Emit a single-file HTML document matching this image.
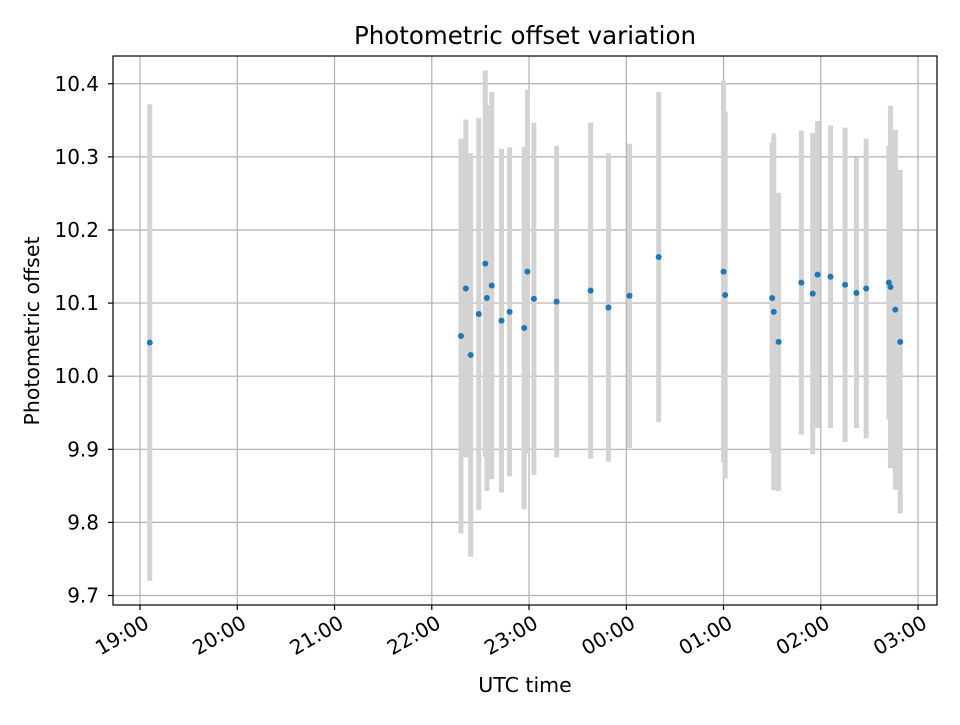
<!DOCTYPE html>
<html><head><meta charset="utf-8"><style>
body{margin:0;background:#fff}
svg text{font-family:"DejaVu Sans","Liberation Sans",sans-serif;fill:#000}
</style></head><body>
<svg id="chart" width="960" height="720" xmlns="http://www.w3.org/2000/svg">
<rect width="960" height="720" fill="#fff"/>
<g id="grid"></g>
<g id="bars"></g>
<g id="pts"></g>
<rect x="113" y="56" width="824" height="549" fill="none" stroke="#000" stroke-width="1.2"/>
<g id="axes"></g>
<text x="525" y="44" text-anchor="middle" font-size="24.5">Photometric offset variation</text>
<text x="525" y="692" text-anchor="middle" font-size="20.5">UTC time</text>
<text transform="translate(39,331) rotate(-90)" text-anchor="middle" font-size="20.5">Photometric offset</text>
</svg>
<script>
const times=["19:06","22:18","22:21","22:24","22:29","22:33","22:34","22:37","22:43","22:48","22:57","22:59","23:03","23:17","23:38","23:49","00:02","00:20","01:00","01:01","01:30","01:31","01:34","01:48","01:55","01:58","02:06","02:15","02:22","02:28","02:42","02:43","02:46","02:49"];
const values=[10.046,10.055,10.120,10.029,10.085,10.154,10.107,10.124,10.076,10.088,10.066,10.143,10.106,10.102,10.117,10.094,10.110,10.163,10.143,10.111,10.107,10.088,10.047,10.128,10.113,10.139,10.136,10.125,10.114,10.120,10.128,10.122,10.091,10.047];
const errors=[0.326,0.270,0.231,0.276,0.268,0.264,0.264,0.265,0.235,0.225,0.248,0.249,0.241,0.213,0.230,0.211,0.208,0.226,0.261,0.251,0.212,0.244,0.204,0.208,0.220,0.210,0.207,0.215,0.185,0.205,0.187,0.248,0.246,0.235];
const xTickLabels=["19:00","20:00","21:00","22:00","23:00","00:00","01:00","02:00","03:00"];
const yTicks=[9.7,9.8,9.9,10.0,10.1,10.2,10.3,10.4];
const X0=113,X1=937,Y0=605,Y1=56;
const xMin=18.722,xMax=27.195,yMin=9.687,yMax=10.438;
function toH(s){let [h,m]=s.split(':').map(Number);if(h<12)h+=24;return h+m/60;}
function xs(h){return X0+(h-xMin)/(xMax-xMin)*(X1-X0);}
function ys(v){return Y0-(v-yMin)/(yMax-yMin)*(Y0-Y1);}
const NS="http://www.w3.org/2000/svg";
function mk(t,a,p){const e=document.createElementNS(NS,t);for(const k in a)e.setAttribute(k,a[k]);p.appendChild(e);return e;}
const grid=document.getElementById('grid'),axes=document.getElementById('axes'),bars=document.getElementById('bars'),pts=document.getElementById('pts');
xTickLabels.forEach(l=>{
  const x=xs(toH(l));
  const g=mk('line',{x1:x,x2:x,y1:Y1,y2:Y0,stroke:'#b0b0b0','stroke-width':1.2},grid);
  
  
  const t=mk('line',{x1:x,x2:x,y1:Y0,y2:Y0+5,stroke:'#000','stroke-width':1.2},axes);
  
  
  const tx=mk('text',{x:0,y:0,'text-anchor':'end','font-size':20,dy:'0.74em',transform:`translate(${x+3},${Y0+9}) rotate(-30)`},axes);
  tx.textContent=l;
  
  
});
yTicks.forEach(v=>{
  const y=ys(v);
  const g=mk('line',{x1:X0,x2:X1,y1:y,y2:y,stroke:'#b0b0b0','stroke-width':1.2},grid);
  
  
  const t=mk('line',{x1:X0-5,x2:X0,y1:y,y2:y,stroke:'#000','stroke-width':1.2},axes);
  
  
  const tx=mk('text',{x:X0-14,y:y+7,'text-anchor':'end','font-size':20},axes);
  tx.textContent=v.toFixed(1);
  
  
});
times.forEach((s,i)=>{
  const x=xs(toH(s));
  const b=mk('line',{x1:x,x2:x,y1:ys(values[i]+errors[i]),y2:ys(values[i]-errors[i]),stroke:'#d3d3d3','stroke-width':5},bars);
  
  
});
times.forEach((s,i)=>{
  const c=mk('circle',{cx:xs(toH(s)),cy:ys(values[i]),r:3,fill:'#1f77b4'},pts);
  
  
});
</script>
</body></html>
